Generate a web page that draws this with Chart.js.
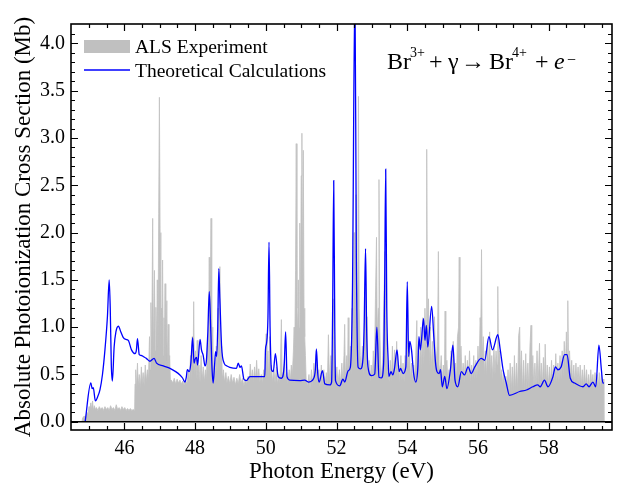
<!DOCTYPE html>
<html><head><meta charset="utf-8">
<script src="https://cdn.jsdelivr.net/npm/chart.js@4.4.1/dist/chart.umd.min.js"></script>
<style>html,body{margin:0;padding:0;background:#fff}#wrap{width:619px;height:486px}</style>
</head><body><div id="wrap"><canvas id="c" width="619" height="486"></canvas></div>
<script>
// ---- Data ----
const xTickValues = [46, 48, 50, 52, 54, 56, 58];
const yTickValues = [0, 0.5, 1.0, 1.5, 2.0, 2.5, 3.0, 3.5, 4.0];

// ALS Experiment (photon energy, eV)
const expEnergy = [
 44.80,44.82,44.86,44.90,44.94,44.97,45.00,45.02,45.05,45.07,45.10,45.12,45.15,45.18,45.21,45.25,45.29,45.33,45.37,45.41,45.45,45.49,45.53,45.57,45.61,45.65,45.69,45.73,45.77,45.81,45.85,45.89,45.93,45.97,46.01,46.05,46.09,46.13,46.17,46.21,46.25,46.29,
 46.30,46.32,46.34,46.37,46.39,46.42,46.45,46.48,46.50,46.53,46.56,46.59,46.62,46.65,46.68,
 46.71,46.73,46.75,46.77,46.80,46.82,46.85,46.87,46.89,46.91,46.93,46.95,46.97,46.99,47.01,47.03,47.05,47.06,47.08,47.10,47.12,47.13,47.15,47.17,47.20,47.22,47.24,47.26,47.28,47.30,
 47.33,47.37,47.41,47.45,47.49,47.53,47.57,47.61,47.65,47.69,47.73,47.77,47.81,47.84,
 47.87,47.89,47.92,47.94,47.96,47.98,48.01,48.03,48.06,48.08,48.11,48.14,48.17,48.20,48.23,48.26,48.29,48.32,48.35,48.37,48.40,48.42,48.45,48.47,48.50,48.52,48.55,48.57,48.60,48.62,48.65,48.67,48.70,48.72,48.75,48.77,48.80,48.83,48.87,48.90,
 48.94,48.98,49.02,49.06,49.10,49.14,49.18,49.22,49.26,49.30,49.34,49.38,49.42,49.46,49.50,49.53,49.56,49.59,49.62,49.65,49.68,49.71,49.74,49.77,49.80,49.83,49.87,49.90,49.94,49.97,50.01,50.03,50.06,50.08,50.11,50.13,50.16,50.19,50.23,50.26,50.30,50.33,50.37,50.40,50.44,50.46,50.50,50.53,50.55,50.59,50.62,50.66,50.69,50.72,50.75,
 50.78,50.80,50.82,50.84,50.86,50.88,50.90,50.92,50.94,50.96,50.98,51.00,51.02,51.04,51.06,51.08,51.10,51.12,51.14,
 51.18,51.22,51.25,51.29,51.32,51.36,51.39,51.43,51.46,51.50,51.53,51.57,51.60,51.64,51.67,51.71,51.74,51.77,51.80,51.84,51.87,51.91,51.94,51.97,52.01,52.04,52.08,52.11,52.15,52.18,52.21,52.23,52.25,52.29,52.31,52.33,52.35,52.39,52.41,52.44,52.46,
 52.50,52.52,52.55,52.57,52.60,52.62,52.64,52.67,52.70,52.73,52.75,52.78,52.82,52.84,52.86,52.89,52.92,52.95,52.98,53.01,53.04,53.07,53.10,53.13,53.15,53.18,53.20,53.22,53.25,53.28,53.31,53.34,53.37,53.40,53.43,53.46,53.49,
 53.52,53.55,53.58,53.61,53.64,53.67,53.70,53.73,53.76,53.79,53.82,53.85,53.88,53.91,53.94,53.97,54.00,54.03,54.06,54.09,54.12,54.15,54.18,54.21,54.24,54.27,54.29,54.32,54.35,54.38,54.41,54.44,54.47,54.50,54.53,54.55,54.57,54.60,54.62,54.65,54.68,54.71,54.74,54.77,54.80,54.84,54.86,54.88,54.90,
 54.93,54.96,54.99,55.02,55.05,55.07,55.09,55.12,55.15,55.18,55.21,55.24,55.27,55.30,55.33,55.36,55.39,55.42,55.45,55.47,55.49,55.52,55.55,55.58,55.61,55.64,55.67,55.70,55.73,55.76,55.79,55.82,55.85,55.88,55.91,55.94,55.97,56.00,56.03,56.06,56.08,56.10,56.12,56.15,56.18,56.21,56.24,56.27,56.30,56.33,56.36,56.39,56.42,56.45,56.48,56.51,56.54,56.56,56.58,56.61,56.64,56.67,56.70,56.73,56.76,
 56.79,56.82,56.85,56.88,56.91,56.94,56.97,57.00,57.03,57.06,57.09,57.12,57.15,57.18,57.20,57.23,57.26,57.29,57.32,57.35,57.38,57.41,57.44,57.47,57.50,57.52,57.55,57.58,57.61,57.64,57.67,57.70,57.74,57.76,57.79,57.82,57.85,57.88,57.90,57.93,57.96,57.99,58.02,58.05,58.08,58.11,58.14,58.17,58.20,58.23,58.26,58.29,58.32,58.35,58.38,58.41,58.44,58.47,58.50,58.52,58.54,58.56,58.59,58.62,58.65,58.68,58.71,58.74,58.77,58.80,58.83,58.86,58.89,58.92,58.95,58.98,59.01,59.04,59.07,59.10,59.13,59.16,59.19,59.22,59.25,59.28,59.31,59.34,59.37,59.40,59.43,59.46,59.49,59.52,59.55,59.56
];
// ALS Experiment cross section (Mb)
const expSigma = [
 0,0.04,0.06,0.05,0.10,0.08,0.16,0.11,0.20,0.13,0.22,0.12,0.17,0.13,0.15,0.12,0.16,0.13,0.15,0.12,0.16,0.13,0.15,0.12,0.17,0.13,0.15,0.12,0.18,0.13,0.15,0.12,0.16,0.13,0.15,0.12,0.14,0.12,0.14,0.12,0.13,0.12,
 0.40,0.55,0.35,0.62,0.38,0.50,0.36,0.58,0.40,0.52,0.38,0.60,0.42,0.55,0.45,
 0.90,0.55,1.26,0.65,2.15,0.70,1.60,0.75,1.21,0.80,1.50,0.80,2.20,3.43,2.00,0.80,1.20,0.75,1.71,0.70,1.10,0.70,1.46,0.65,1.28,0.60,1.03,0.55,0.70,0.45,
 0.44,0.41,0.46,0.40,0.45,0.41,0.44,0.40,0.43,0.39,0.44,0.40,0.55,0.42,
 0.70,0.45,0.90,0.50,1.27,0.48,0.75,0.45,0.86,0.45,0.60,0.42,0.70,0.44,0.58,0.42,0.55,0.45,0.90,0.50,1.74,0.80,2.15,0.70,1.00,0.45,0.60,0.42,0.80,0.50,1.20,0.60,1.64,0.55,0.80,0.45,0.55,0.42,0.52,0.41,
 0.48,0.40,0.50,0.41,0.47,0.39,0.46,0.40,0.50,0.41,0.46,0.38,0.45,0.40,0.48,0.42,0.61,0.44,0.55,0.42,0.58,0.44,0.65,0.43,0.56,0.42,0.50,0.41,0.55,0.45,0.93,0.50,0.75,0.45,0.90,0.45,0.60,0.42,0.55,0.41,0.58,0.40,0.50,0.41,1.08,0.45,0.55,0.68,0.45,0.52,0.40,0.55,0.42,0.60,0.50,
 0.75,1.00,0.80,1.60,2.94,1.20,0.95,1.50,1.00,2.10,1.10,2.60,3.05,1.50,2.87,1.20,0.90,0.70,0.45,
 0.38,0.50,0.35,0.55,0.38,0.62,0.42,0.75,0.40,0.55,0.37,0.60,0.40,0.55,0.37,0.52,0.40,0.92,0.42,0.70,0.45,1.30,0.60,0.45,0.58,0.40,0.55,0.40,0.62,0.42,0.70,1.03,0.45,0.70,0.50,1.10,0.48,0.80,0.50,1.20,0.60,
 2.00,1.00,2.40,0.90,1.50,3.44,1.20,0.70,0.55,0.80,0.50,0.90,1.50,1.11,0.60,0.50,0.65,0.42,0.60,0.45,0.75,0.50,1.30,1.95,0.90,1.20,2.56,1.00,0.60,0.45,0.70,1.30,1.80,1.00,0.60,0.50,0.42,
 0.65,0.42,0.80,0.45,0.76,0.45,0.85,0.48,0.60,0.42,0.70,0.44,0.62,0.42,0.70,0.50,1.20,0.55,0.75,0.45,0.62,0.42,0.60,0.45,0.70,1.07,0.55,0.85,0.50,1.00,0.55,1.10,0.60,1.20,0.80,2.88,1.00,1.30,0.60,1.00,0.55,0.85,0.50,1.11,0.55,0.75,1.00,1.80,0.60,
 0.50,0.70,0.42,0.60,0.45,1.17,0.50,0.65,0.40,0.55,0.42,0.75,0.50,0.85,0.45,0.62,0.42,0.90,1.00,1.74,0.60,0.80,0.45,0.62,0.42,0.70,0.44,0.65,0.45,0.75,0.42,0.60,0.44,0.70,0.45,0.65,0.46,0.80,0.50,1.10,1.00,1.82,0.70,0.90,0.50,0.75,0.48,0.85,0.55,0.95,0.50,0.70,0.45,0.80,0.50,0.75,0.60,1.43,0.60,0.75,0.45,0.55,0.40,0.52,0.38,
 0.48,0.31,0.55,0.30,0.62,0.32,0.58,0.31,0.70,0.33,0.62,0.32,0.91,1.00,0.45,0.75,0.33,0.65,0.32,0.72,0.34,0.62,0.33,0.80,1.02,0.38,0.70,0.35,0.62,0.36,0.75,0.38,0.83,0.40,0.62,0.38,0.68,0.40,0.82,0.40,0.60,0.38,0.58,0.40,0.65,0.42,0.60,0.40,0.72,0.42,0.62,0.42,0.70,0.45,0.75,0.48,0.85,0.52,0.95,0.70,1.28,0.60,0.75,0.42,0.65,0.40,0.60,0.38,0.62,0.40,0.58,0.38,0.60,0.38,0.55,0.37,0.60,0.38,0.55,0.36,0.50,0.36,0.55,0.37,0.50,0.35,0.52,0.36,0.50,0.37,0.52,0.35,0.50,0.37,0.45,0
];

// Theoretical Calculations (photon energy, eV)
const theoryEnergy = [
 44.89,45.05,45.09,45.12,45.18,45.24,45.31,45.38,45.45,45.52,45.57,45.60,45.63,45.66,45.71,45.76,45.83,45.90,45.97,46.04,
 46.11,46.20,46.30,46.34,46.37,46.42,46.49,46.53,46.62,46.72,46.84,46.91,47.10,47.29,47.45,47.57,47.65,47.71,47.75,47.78,
 47.83,47.88,47.93,47.97,48.00,48.04,48.07,48.14,48.18,48.23,48.28,48.32,48.36,48.40,48.44,48.48,48.51,48.55,48.58,48.61,
 48.64,48.67,48.70,48.75,48.82,48.90,48.98,49.17,49.22,49.27,49.31,49.38,49.45,49.55,49.97,49.99,50.02,50.06,50.09,50.12,
 50.16,50.21,50.27,50.35,50.44,50.52,50.56,50.60,50.68,50.96,51.10,51.20,51.34,51.40,51.43,51.47,51.51,51.60,51.67,51.81,
 51.86,51.89,51.92,51.95,51.97,52.09,52.18,52.23,52.33,52.39,52.45,52.52,52.56,52.61,52.68,52.75,52.78,52.82,52.85,52.89,
 52.99,53.08,53.14,53.20,53.27,53.33,53.36,53.39,53.42,53.46,53.48,53.54,53.59,53.64,53.71,53.77,53.81,53.88,53.96,54.00,
 54.04,54.07,54.12,54.18,54.24,54.30,54.33,54.37,54.46,54.50,54.54,54.58,54.69,54.75,54.80,54.84,54.90,54.94,54.99,55.06,
 55.12,55.22,55.29,55.35,55.43,55.53,55.62,55.72,55.81,55.91,56.09,56.19,56.31,56.41,56.56,56.63,56.71,56.80,56.89,57.18,
 57.37,57.55,57.69,57.76,57.88,57.98,58.12,58.19,58.26,58.35,58.45,58.52,58.61,58.73,58.97,59.06,59.14,59.25,59.33,59.42,
 59.49,59.53,59.56
];
// Theoretical cross section (Mb)
const theorySigma = [
 0.00,0.41,0.35,0.36,0.22,0.26,0.34,0.50,0.76,1.11,1.50,1.20,0.60,0.43,0.79,0.95,1.01,0.95,0.89,0.87,
 0.86,0.76,0.72,0.76,0.88,0.71,0.70,0.69,0.67,0.64,0.67,0.62,0.59,0.565,0.53,0.495,0.46,0.42,0.47,0.55,
 0.53,0.62,0.89,0.62,0.66,0.68,0.60,0.87,0.76,0.70,0.59,0.65,0.95,1.375,1.00,0.55,0.41,0.60,0.74,0.69,
 1.00,1.62,1.30,0.79,0.62,0.59,0.576,0.565,0.62,0.576,0.59,0.45,0.435,0.477,0.477,0.76,0.83,1.10,1.90,1.00,
 0.55,0.53,0.72,0.477,0.46,0.60,0.95,0.477,0.44,0.435,0.44,0.42,0.45,0.55,0.77,0.50,0.42,0.54,0.40,0.39,
 0.42,1.20,2.55,1.00,0.435,0.38,0.45,0.42,0.54,0.576,1.39,4.60,1.74,0.576,0.56,0.68,1.00,1.83,1.00,0.576,
 0.487,0.505,1.00,0.47,0.463,0.61,1.40,2.67,1.20,0.646,0.477,0.53,0.495,0.565,0.76,0.53,0.565,0.51,0.58,1.48,
 0.69,0.85,0.76,0.51,0.42,0.58,0.90,0.76,1.09,0.86,1.02,0.79,1.22,0.90,0.62,0.53,0.51,0.55,0.37,0.48,
 0.35,0.55,0.81,0.44,0.37,0.53,0.495,0.58,0.51,0.58,0.67,0.65,0.90,0.76,0.92,0.76,0.55,0.41,0.28,0.32,
 0.336,0.37,0.39,0.37,0.44,0.37,0.477,0.58,0.55,0.58,0.71,0.71,0.46,0.41,0.37,0.40,0.37,0.42,0.37,0.81,
 0.55,0.41,0.41
];

const seriesNames = ['ALS Experiment', 'Theoretical Calculations'];
const GRAY = '#c0c0c0', BLUE = '#0000ff';
const SERIF = '"Liberation Serif", "Times New Roman", serif';

const expPoints = expEnergy.map((e, i) => ({x: e, y: expSigma[i]}));
const theoryPoints = theoryEnergy.map((e, i) => ({x: e, y: theorySigma[i]}));

// frame, inward ticks, zero line, legend and reaction label
const decor = {
  id: 'decor',
  afterDatasetsDraw(chart) {
    const {ctx, chartArea: a, scales: {x, y}} = chart;
    ctx.save();
    ctx.strokeStyle = '#000';
    // zero line
    ctx.lineWidth = 1.6;
    const y0 = y.getPixelForValue(0);
    ctx.beginPath(); ctx.moveTo(a.left, y0); ctx.lineTo(a.right, y0); ctx.stroke();
    // ticks
    ctx.lineWidth = 1.2;
    ctx.beginPath();
    for (let k = 89; k <= 119; k++) {
      const v = k / 2;
      const px = Math.round(x.getPixelForValue(v)) + 0.5;
      if (px < a.left + 1 || px > a.right - 1) continue;
      const len = xTickValues.includes(v) ? 7 : 4;
      ctx.moveTo(px, a.bottom); ctx.lineTo(px, a.bottom - len);
      ctx.moveTo(px, a.top); ctx.lineTo(px, a.top + len);
    }
    for (let k = 0; k <= 42; k++) {
      const v = k / 10;
      const py = Math.round(y.getPixelForValue(v)) + 0.5;
      if (py < a.top + 1 || py > a.bottom - 1) continue;
      const len = (k % 5 === 0) ? 7 : 4;
      ctx.moveTo(a.left, py); ctx.lineTo(a.left + len, py);
      ctx.moveTo(a.right, py); ctx.lineTo(a.right - len, py);
    }
    ctx.stroke();
    // frame
    ctx.lineWidth = 1.6;
    ctx.strokeRect(a.left, a.top, a.right - a.left, a.bottom - a.top);

    // legend
    ctx.fillStyle = GRAY;
    ctx.fillRect(84, 40, 46, 13);
    ctx.strokeStyle = BLUE; ctx.lineWidth = 1.3;
    ctx.beginPath(); ctx.moveTo(84, 70); ctx.lineTo(130, 70); ctx.stroke();
    ctx.fillStyle = '#000';
    ctx.font = '19.5px ' + SERIF;
    ctx.textBaseline = 'alphabetic'; ctx.textAlign = 'left';
    ctx.fillText(seriesNames[0], 135, 53);
    ctx.fillText(seriesNames[1], 135, 77);

    // reaction label
    const base = 69;
    const big = '24px ' + SERIF, small = '14px ' + SERIF;
    ctx.font = big; ctx.fillText('Br', 387, base);
    ctx.font = small; ctx.fillText('3+', 410, base - 12);
    ctx.font = big; ctx.fillText('+', 429, base);
    ctx.fillText('\u03b3', 448, base);
    ctx.fillText('\u2192', 461, base);
    ctx.fillText('Br', 489, base);
    ctx.font = small; ctx.fillText('4+', 512, base - 12);
    ctx.font = big; ctx.fillText('+', 535, base);
    ctx.font = 'italic 24px ' + SERIF; ctx.fillText('e', 554, base);
    ctx.font = '16px ' + SERIF; ctx.fillText('\u2212', 567, base - 4);
    ctx.restore();
  }
};

new Chart(document.getElementById('c'), {
  type: 'line',
  data: {
    datasets: [
      {
        label: seriesNames[0], data: expPoints,
        borderColor: GRAY, borderWidth: 0.8, backgroundColor: GRAY,
        fill: 'origin', pointRadius: 0, tension: 0, order: 2
      },
      {
        label: seriesNames[1], data: theoryPoints,
        borderColor: BLUE, borderWidth: 1.3, backgroundColor: BLUE,
        fill: false, pointRadius: 0, cubicInterpolationMode: 'monotone', order: 1
      }
    ]
  },
  options: {
    responsive: false, animation: false, devicePixelRatio: 1,
    layout: {padding: {left: 0, right: 7, top: 24, bottom: 0}},
    plugins: {legend: {display: false}, tooltip: {enabled: false}},
    scales: {
      x: {
        type: 'linear', min: 44.49, max: 59.79,
        afterBuildTicks: s => { s.ticks = xTickValues.map(v => ({value: v})); },
        afterFit: s => { s.height = 56; },
        grid: {display: false, drawTicks: false}, border: {display: false},
        ticks: {font: {family: SERIF, size: 20}, color: '#000', padding: 7, maxRotation: 0, autoSkip: false,
                callback: v => String(v)},
        title: {display: true, text: 'Photon Energy (eV)', color: '#000',
                font: {family: SERIF, size: 23}, padding: {top: 0, bottom: 0}}
      },
      y: {
        type: 'linear', min: -0.087, max: 4.205,
        afterBuildTicks: s => { s.ticks = yTickValues.map(v => ({value: v})); },
        afterFit: s => { s.width = 71; },
        grid: {display: false, drawTicks: false}, border: {display: false},
        ticks: {font: {family: SERIF, size: 20}, color: '#000', padding: 6, autoSkip: false,
                callback: v => Number(v).toFixed(1)},
        title: {display: true, text: 'Absolute Photoionization Cross Section (Mb)', color: '#000',
                font: {family: SERIF, size: 23}, padding: {top: 10, bottom: 0}}
      }
    }
  },
  plugins: [decor]
});
</script></body></html>
